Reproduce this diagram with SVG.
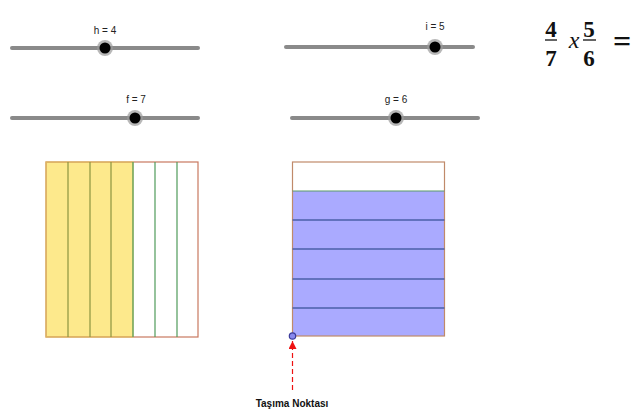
<svg xmlns="http://www.w3.org/2000/svg" width="634" height="412" viewBox="0 0 634 412">
<defs>
<style>
.track{stroke:#8a8a8a;stroke-width:4;stroke-linecap:round}
.halo{fill:#9a9a9a;opacity:0.7}
.knob{fill:#000}
.lbl{font-family:"Liberation Sans",Arial,sans-serif;font-size:10px;fill:#222;text-anchor:middle}
.num{font-family:"Liberation Serif","Times New Roman",serif;font-size:23px;font-weight:bold;fill:#111;text-anchor:middle}
.bar{stroke:#111;stroke-width:1.3}
.vy{stroke:#8c9440;stroke-width:1.2}
.vg{stroke:#4f9a5a;stroke-width:1.2}
.hb{stroke:#4a5fa8;stroke-width:1.6}
</style>
<marker id="ah" viewBox="0 0 10 10" refX="10" refY="5" markerWidth="8" markerHeight="8" orient="auto" markerUnits="userSpaceOnUse">
<path d="M0,0 L10,5 L0,10 Z" fill="#ee1111"/>
</marker>
</defs>
<rect width="634" height="412" fill="#fff"/>

<g id="slider-h">
<line class="track" x1="12" y1="48" x2="198" y2="48"/>
<circle class="halo" cx="105" cy="48" r="8"/>
<circle class="knob" cx="105" cy="48" r="5.5"/>
<text class="lbl" x="105" y="34">h = 4</text>
</g>
<g id="slider-f">
<line class="track" x1="12" y1="118" x2="198" y2="118"/>
<circle class="halo" cx="135" cy="118" r="8"/>
<circle class="knob" cx="135" cy="118" r="5.5"/>
<text class="lbl" x="136" y="103">f = 7</text>
</g>
<g id="slider-i">
<line class="track" x1="286" y1="47" x2="473" y2="47"/>
<circle class="halo" cx="435" cy="47" r="8"/>
<circle class="knob" cx="435" cy="47" r="5.5"/>
<text class="lbl" x="435" y="30">i = 5</text>
</g>
<g id="slider-g">
<line class="track" x1="292" y1="118" x2="478" y2="118"/>
<circle class="halo" cx="396" cy="118" r="8"/>
<circle class="knob" cx="396" cy="118" r="5.5"/>
<text class="lbl" x="396" y="103">g = 6</text>
</g>

<g id="formula">
<text class="num" x="551" y="37">4</text>
<line class="bar" x1="545" y1="40" x2="557" y2="40"/>
<text class="num" x="551" y="66">7</text>
<text x="574" y="48" font-family="'Liberation Serif','Times New Roman',serif" font-size="24" font-style="italic" fill="#111" text-anchor="middle">x</text>
<text class="num" x="589" y="37">5</text>
<line class="bar" x1="583" y1="40" x2="596" y2="40"/>
<text class="num" x="589" y="66">6</text>
<text x="622" y="52" font-family="'Liberation Serif','Times New Roman',serif" font-size="32" font-weight="bold" fill="#111" text-anchor="middle">=</text>
</g>

<g id="rect-sevenths">
<rect x="46" y="162" width="87" height="175" fill="#fde98c"/>
<rect x="46" y="162" width="152" height="175" fill="none" stroke="#c9785f" stroke-width="1.2"/>
<rect x="46" y="162" width="87" height="175" fill="none" stroke="#e2c55a" stroke-width="1"/>
<line class="vy" x1="68" y1="162" x2="68" y2="337"/>
<line class="vy" x1="90" y1="162" x2="90" y2="337"/>
<line class="vy" x1="111" y1="162" x2="111" y2="337"/>
<line class="vg" x1="133" y1="162" x2="133" y2="337"/>
<line class="vg" x1="155" y1="162" x2="155" y2="337"/>
<line class="vg" x1="177" y1="162" x2="177" y2="337"/>
</g>

<g id="rect-sixths">
<rect x="292.5" y="191" width="152" height="145" fill="#aaaaff"/>
<rect x="292.5" y="162" width="152" height="174" fill="none" stroke="#c08a6a" stroke-width="1.2"/>
<line x1="292.5" y1="191" x2="444.5" y2="191" stroke="#5a9a6a" stroke-width="1.2"/>
<line class="hb" x1="292.5" y1="220" x2="444.5" y2="220"/>
<line class="hb" x1="292.5" y1="249" x2="444.5" y2="249"/>
<line class="hb" x1="292.5" y1="279" x2="444.5" y2="279"/>
<line class="hb" x1="292.5" y1="308" x2="444.5" y2="308"/>
</g>

<g id="point">
<circle cx="292.5" cy="336" r="3.2" fill="#8888ee" stroke="#3a3a9a" stroke-width="1.2"/>
<text x="292" y="407" font-family="'Liberation Sans',Arial,sans-serif" font-size="10" font-weight="bold" fill="#111" text-anchor="middle">Taşıma Noktası</text>
</g>

<g id="connectors">
<line x1="292.5" y1="390" x2="292.5" y2="341" stroke="#ee1111" stroke-width="1.2" stroke-dasharray="5,3" marker-end="url(#ah)"/>
</g>
</svg>
